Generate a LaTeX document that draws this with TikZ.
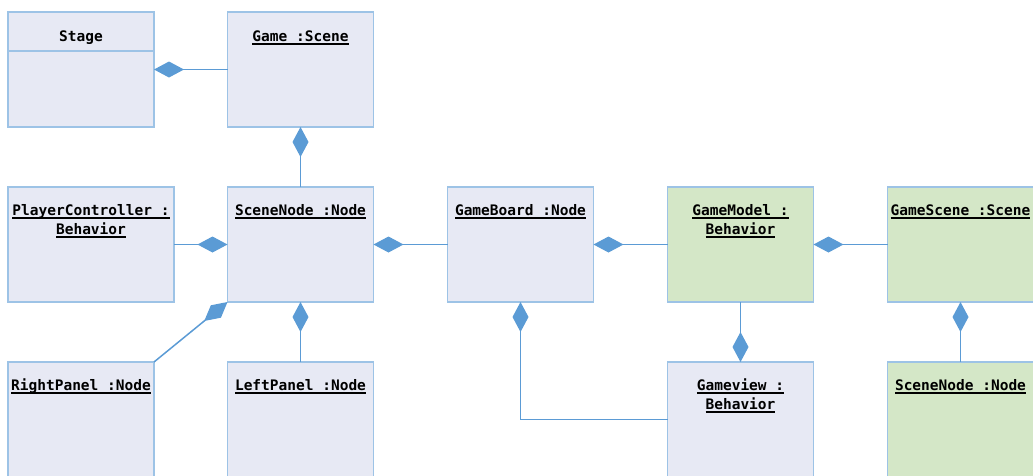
\documentclass[tikz,border=0pt]{standalone}
\usepackage{fontspec}
\setmonofont{DejaVu Sans Mono}
\usetikzlibrary{arrows.meta}
\definecolor{boxfill}{HTML}{E7E9F4}
\definecolor{boxline}{HTML}{9DC3E6}
\definecolor{greenfill}{HTML}{D4E7C7}
\definecolor{conn}{HTML}{5B9BD5}
\newcommand\myul[1]{\setbox0\hbox{#1}\rlap{\rule[-3.5pt]{\wd0}{1.1pt}}\box0}
\begin{document}
\begin{tikzpicture}[x=1pt,y=-1pt,
 box/.style={draw=boxline, line width=1.5pt, fill=boxfill, minimum width=146pt, minimum height=115pt, inner sep=0pt, outer sep=0pt},
 gbox/.style={box, fill=greenfill},
 ttl/.style={font=\ttfamily\bfseries\fontsize{14.5}{19}\selectfont, anchor=base, inner sep=0pt, text=black},
 comp/.style={draw=conn, line width=1.5pt, -{Diamond[length=30pt,width=16pt]}}]
\useasboundingbox (0,0) rectangle (1033,475);
% row 1
\node[box] (stage) at (81,69.5) {};
\draw[boxline, line width=1.5pt] ([yshift=-39pt]stage.north west) -- ([yshift=-39pt]stage.north east);
\node[box] (game) at (300.5,69.5) {};
% row 2
\node[box, minimum width=166pt] (pc) at (91,244.5) {};
\node[box] (scn) at (300.5,244.5) {};
\node[box] (gb) at (520.5,244.5) {};
\node[gbox] (gm) at (740.5,244.5) {};
\node[gbox] (gs) at (960.5,244.5) {};
% row 3
\node[box] (rp) at (81,419.5) {};
\node[box] (lp) at (300.5,419.5) {};
\node[box] (gv) at (740.5,419.5) {};
\node[gbox] (sn2) at (960.5,419.5) {};
% titles
\node[ttl] (stageT) at ([yshift=-29pt]stage.north) {Stage};
\node[ttl] (gameT) at ([yshift=-29pt]game.north) {\myul{Game :Scene}};
\node[ttl] (pcT1) at ([yshift=-28pt]pc.north) {\myul{PlayerController :}};
\node[ttl] (pcT2) at ([yshift=-47pt]pc.north) {\myul{Behavior}};
\node[ttl] (scnT) at ([yshift=-28pt]scn.north) {\myul{SceneNode :Node}};
\node[ttl] (gbT) at ([yshift=-28pt]gb.north) {\myul{GameBoard :Node}};
\node[ttl] (gmT1) at ([yshift=-28pt]gm.north) {\myul{GameModel :}};
\node[ttl] (gmT2) at ([yshift=-47pt]gm.north) {\myul{Behavior}};
\node[ttl] (gsT) at ([yshift=-28pt]gs.north) {\myul{GameScene :Scene}};
\node[ttl] (rpT) at ([yshift=-28pt]rp.north) {\myul{RightPanel :Node}};
\node[ttl] (lpT) at ([yshift=-28pt]lp.north) {\myul{LeftPanel :Node}};
\node[ttl] (gvT1) at ([yshift=-28pt]gv.north) {\myul{Gameview :}};
\node[ttl] (gvT2) at ([yshift=-47pt]gv.north) {\myul{Behavior}};
\node[ttl] (sn2T) at ([yshift=-28pt]sn2.north) {\myul{SceneNode :Node}};
% connectors
\draw[comp] (game.west) -- (stage.east);
\draw[comp] (scn.north) -- (game.south);
\draw[comp] (pc.east) -- (scn.west);
\draw[comp] (gb.west) -- (scn.east);
\draw[comp] (gm.west) -- (gb.east);
\draw[comp] (gs.west) -- (gm.east);
\draw[comp] (lp.north) -- (scn.south);
\draw[comp] (rp.north east) -- (scn.south west);
\draw[comp] (gm.south) -- (gv.north);
\draw[comp] (gv.west) -| (gb.south);
\draw[comp] (sn2.north) -- (gs.south);
\end{tikzpicture}
\end{document}
